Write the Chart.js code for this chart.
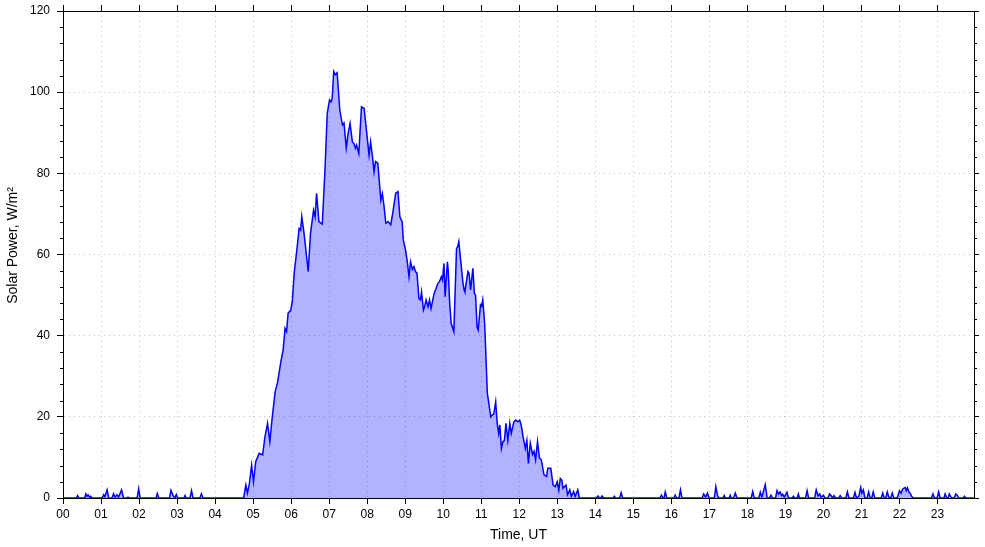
<!DOCTYPE html>
<html>
<head>
<meta charset="utf-8">
<title>Solar Power</title>
<script src="https://cdn.jsdelivr.net/npm/chart.js@4.4.1/dist/chart.umd.min.js"></script>
<style>
  html, body { margin: 0; padding: 0; background: #fff; }
  #wrap { width: 985px; height: 547px; }
</style>
</head>
<body>
<div id="wrap"><canvas id="solarChart"></canvas></div>
<script>
// time in hours UT, power in W/m2
const nightHours = [0, 0.35, 0.385, 0.42, 0.57, 0.6, 0.63, 0.66, 0.7, 0.73,
  0.76, 1.03, 1.07, 1.1, 1.16, 1.2, 1.29, 1.33, 1.37, 1.42,
  1.46, 1.54, 1.59, 1.69, 1.71, 1.73, 1.95, 1.99, 2.03, 2.45,
  2.48, 2.52, 2.8, 2.84, 2.9, 2.94, 2.98, 3.02, 3.18, 3.21,
  3.24, 3.34, 3.38, 3.42, 3.6, 3.64, 3.68, 4.72];
const nightPower = [0, 0, 0.6, 0, 0, 1, 0.4, 0.8, 0.2, 0.4,
  0, 0, 0.8, 0.3, 2, 0, 0, 1.1, 0.2, 0.8,
  0.2, 2, 0, 0, 0.2, 0, 0, 2.3, 0, 0,
  1.1, 0, 0, 1.9, 0.5, 0, 0.9, 0, 0, 0.6,
  0, 0, 1.8, 0, 0, 1, 0, 0];

const dayHours = [4.75, 4.81, 4.85, 4.9, 4.96, 5.01, 5.07, 5.16, 5.25, 5.31,
  5.38, 5.44, 5.5, 5.58, 5.64, 5.73, 5.79, 5.84, 5.88, 5.92,
  5.99, 6.03, 6.08, 6.15, 6.21, 6.25, 6.28, 6.34, 6.45, 6.51,
  6.59, 6.63, 6.67, 6.73, 6.82, 6.89, 6.95, 7.01, 7.05, 7.08,
  7.12, 7.16, 7.21, 7.28, 7.35, 7.39, 7.45, 7.5, 7.55, 7.61,
  7.65, 7.69, 7.72, 7.78, 7.85, 7.92, 7.97, 8.05, 8.09, 8.14,
  8.18, 8.22, 8.28, 8.36, 8.4, 8.44, 8.49, 8.55, 8.62, 8.68,
  8.75, 8.81, 8.86, 8.92, 8.95, 9.01, 9.05, 9.1, 9.14, 9.19,
  9.23, 9.27, 9.31, 9.36, 9.4, 9.43, 9.48, 9.51, 9.55, 9.6,
  9.64, 9.68, 9.76, 9.8, 9.86, 9.9, 9.95, 9.98, 10.02, 10.05,
  10.11, 10.13, 10.17, 10.21, 10.28, 10.35, 10.38, 10.41, 10.45, 10.52,
  10.55, 10.57, 10.65, 10.68, 10.72, 10.78, 10.82, 10.85, 10.89, 10.92,
  10.98, 11.01, 11.04, 11.09, 11.13, 11.16, 11.2, 11.25, 11.29, 11.33,
  11.38, 11.42, 11.46, 11.49, 11.53, 11.57, 11.61, 11.65, 11.7, 11.75,
  11.79, 11.86, 11.91, 11.96, 12.01, 12.05, 12.1, 12.16, 12.2, 12.24,
  12.29, 12.35, 12.39, 12.43, 12.48, 12.53, 12.58, 12.65, 12.72, 12.75,
  12.83, 12.89, 12.95, 13.0, 13.04, 13.08, 13.12, 13.15, 13.23, 13.27,
  13.33, 13.37, 13.43, 13.47, 13.54, 13.58, 14.03, 14.07, 14.11];
const dayPower = [0, 3.2, 1.2, 3.4, 8.1, 4, 9, 11, 10.6, 15,
  18.4, 13.9, 19.6, 26.2, 28.3, 33.6, 36.5, 41.8, 41, 45.5,
  46.3, 48.4, 55.4, 61.1, 66.4, 66, 69.3, 65.2, 55.8, 65.2,
  70.9, 69.3, 75.1, 68.1, 67.5, 80.8, 94.8, 98.1, 97.6, 98.4,
  105.1, 104.3, 104.8, 95.6, 91.9, 92.4, 86.2, 89.9, 92.3, 87.8,
  87.4, 86.2, 87, 84.9, 96.4, 96, 91.5, 84.5, 87.8, 84.1,
  80.4, 82.9, 82.5, 73.4, 75, 72.2, 67.7, 68.1, 67.3, 70.6,
  75.1, 75.5, 69.3, 68.1, 63.6, 61.1, 58.6, 54.5, 58.2, 56.3,
  57, 55.8, 55.4, 49.2, 48.8, 50.8, 46.3, 47.1, 48.8, 47.1,
  48.8, 46.7, 50.4, 51.3, 52.9, 53.3, 54.5, 53.7, 57.8, 49.6,
  58.2, 56.3, 48, 43, 41, 61.5, 61.9, 63.2, 59.4, 52.9,
  51.3, 50.8, 55.8, 55.4, 51.3, 56.6, 50.4, 50, 42.2, 41.4,
  47.6, 47.2, 48.8, 43, 33.2, 25.8, 23.3, 20, 20.5, 20.7,
  23.7, 18.4, 15.9, 18, 12.2, 13.9, 14.2, 18.4, 14.2, 18.4,
  15.9, 18.8, 19.2, 18.8, 19.2, 18, 15.1, 12.2, 14.2, 8.5,
  13.5, 10.7, 11.5, 9.4, 13.9, 9.9, 9.4, 5.7, 5.3, 7.3,
  7.3, 3.2, 2.8, 4, 1.9, 4.8, 4.4, 2.4, 3.2, 0.8,
  2, 0.4, 1.6, 0.4, 2, 0, 0, 0.5, 0];

const eveningHours = [14.14, 14.18, 14.22, 14.47, 14.5, 14.53, 14.64, 14.68, 14.72, 15.7,
  15.74, 15.78, 15.81, 15.84, 15.88, 16.06, 16.1, 16.14, 16.2, 16.24,
  16.28, 16.81, 16.85, 16.9, 16.95, 16.99, 17.13, 17.17, 17.22, 17.26,
  17.36, 17.39, 17.42, 17.52, 17.55, 17.58, 17.64, 17.68, 17.73, 18.1,
  18.14, 18.18, 18.3, 18.34, 18.38, 18.47, 18.52, 18.58, 18.62, 18.66,
  18.74, 18.78, 18.82, 18.86, 18.9, 18.93, 18.97, 19.04, 19.08, 19.18,
  19.21, 19.24, 19.31, 19.34, 19.37, 19.53, 19.57, 19.61, 19.77, 19.81,
  19.86, 19.9, 19.94, 20.0, 20.04, 20.12, 20.16, 20.21, 20.24, 20.28,
  20.32, 20.4, 20.44, 20.48, 20.59, 20.63, 20.67, 20.79, 20.83, 20.87,
  20.93, 20.98, 21.01, 21.05, 21.09, 21.15, 21.19, 21.23, 21.27, 21.31,
  21.35, 21.52, 21.56, 21.6, 21.64, 21.68, 21.72, 21.77, 21.81, 21.85,
  21.94, 22.0, 22.04, 22.09, 22.15, 22.18, 22.21, 22.25, 22.28, 22.32,
  22.36, 22.84, 22.88, 22.92, 22.99, 23.03, 23.07, 23.17, 23.2, 23.24,
  23.28, 23.31, 23.35, 23.39, 23.44, 23.48, 23.52, 23.56, 23.68, 23.71,
  23.74, 23.96];
const eveningPower = [0, 0.5, 0, 0, 0.4, 0, 0, 1.3, 0, 0,
  0.7, 0, 0, 1.5, 0, 0, 0.7, 0, 0, 2,
  0, 0, 1, 0.2, 1.2, 0, 0, 2.8, 0.4, 0,
  0, 0.6, 0, 0, 0.7, 0, 0, 1.2, 0, 0,
  1.6, 0, 0, 1.4, 0.2, 3.3, 0, 0, 0.7, 0,
  0, 1.8, 1, 1.5, 0.6, 0.9, 0.2, 1.4, 0, 0,
  0.4, 0, 0, 1, 0, 0, 1.8, 0, 0, 2,
  0.5, 1, 0.2, 0.7, 0, 0, 1, 0.5, 0, 0.6,
  0, 0, 0.6, 0, 0, 1.5, 0, 0, 1.4, 0,
  0.4, 2.6, 1.2, 2, 0, 0, 1.5, 0, 0, 1.5,
  0, 0, 1.2, 0, 0, 1.5, 0.2, 0, 1.2, 0,
  0, 1.8, 1.2, 2.3, 2.6, 1.8, 2.5, 1.5, 1.2, 0.4,
  0, 0, 1, 0, 0, 1.5, 0, 0, 1, 0,
  0, 1, 0.3, 0, 0, 1, 0.7, 0, 0, 0.4,
  0, 0];

const hourTicks = [0, 1, 2, 3, 4, 5, 6, 7, 8, 9, 10, 11, 12, 13, 14, 15, 16, 17, 18, 19, 20, 21, 22, 23];
const hourLabels = ['00', '01', '02', '03', '04', '05', '06', '07', '08', '09', '10', '11',
  '12', '13', '14', '15', '16', '17', '18', '19', '20', '21', '22', '23'];
const powerTicks = [0, 20, 40, 60, 80, 100, 120];
const powerMinorStep = 4;

function toPoints(hours, power) {
  return hours.map(function (h, i) { return {x: h, y: power[i]}; });
}
const points = toPoints(nightHours, nightPower)
  .concat(toPoints(dayHours, dayPower))
  .concat(toPoints(eveningHours, eveningPower));

const FONT = "'Liberation Sans', Arial, sans-serif";
const GRID = '#c4c4c4';

function setTicks(list) {
  return function (scale) {
    scale.ticks = list.map(function (v) { return {value: v}; });
  };
}
function insideGrid(lo, hi) {
  return function (ctx) {
    const v = ctx.tick ? ctx.tick.value : null;
    return (v !== null && v > lo && v < hi) ? GRID : 'rgba(0,0,0,0)';
  };
}
// fixed box sizes, no extra padding for overhanging labels
function fixBox(w, h) {
  return function (s) {
    if (w !== null) s.width = w;
    if (h !== null) s.height = h;
    s.paddingTop = 0; s.paddingBottom = 0;
    s.paddingLeft = 0; s.paddingRight = 0;
  };
}

// minor ticks on both y axes and the y title
const extras = {
  id: 'extras',
  afterDraw(chart) {
    const c = chart.ctx;
    const area = chart.chartArea;
    const y = chart.scales.y;
    c.save();
    c.strokeStyle = '#000';
    c.lineWidth = 1;
    c.beginPath();
    for (let v = 0; v <= 120; v += powerMinorStep) {
      if (powerTicks.indexOf(v) >= 0) continue;
      const py = Math.round(y.getPixelForValue(v)) + 0.5;
      c.moveTo(area.left - 3, py); c.lineTo(area.left, py);
      c.moveTo(area.right, py); c.lineTo(area.right + 3, py);
    }
    c.stroke();

    c.translate(13, (area.top + area.bottom) / 2 - 9);
    c.rotate(-Math.PI / 2);
    c.fillStyle = '#000';
    c.font = '14px ' + FONT;
    c.textAlign = 'center';
    c.textBaseline = 'middle';
    c.fillText('Solar Power, W/m\u00B2', 0, 0);
    c.restore();
  }
};

new Chart(document.getElementById('solarChart'), {
  type: 'line',
  data: {
    datasets: [{
      data: points,
      borderColor: '#0000ff',
      backgroundColor: 'rgba(0,0,255,0.3)',
      borderWidth: 1.5,
      fill: 'origin',
      tension: 0,
      pointRadius: 0,
      xAxisID: 'x',
      yAxisID: 'y'
    }]
  },
  options: {
    responsive: true,
    maintainAspectRatio: false,
    animation: false,
    events: [],
    layout: {padding: 0},
    plugins: {legend: {display: false}, tooltip: {enabled: false}},
    scales: {
      x: {
        type: 'linear', position: 'bottom', min: 0, max: 23.96,
        afterBuildTicks: setTicks(hourTicks),
        afterFit: fixBox(null, 49),
        grid: {color: insideGrid(0, 24), tickColor: '#000', tickLength: 6, lineWidth: 1},
        border: {color: '#000', width: 1, dash: [1, 4]},
        ticks: {
          color: '#000', padding: 3, maxRotation: 0, autoSkip: false,
          font: {family: FONT, size: 12},
          callback: function (v) { return hourLabels[hourTicks.indexOf(v)]; }
        },
        title: {display: true, text: 'Time, UT', color: '#000',
          font: {family: FONT, size: 14}, padding: {top: 0, bottom: 3}}
      },
      x2: {
        type: 'linear', axis: 'x', position: 'top', min: 0, max: 23.96,
        afterBuildTicks: setTicks(hourTicks),
        afterFit: fixBox(null, 11),
        grid: {drawOnChartArea: false, tickColor: '#000', tickLength: 6},
        border: {color: '#000', width: 1},
        ticks: {display: false}
      },
      y: {
        type: 'linear', position: 'left', min: 0, max: 120,
        afterBuildTicks: setTicks(powerTicks),
        afterFit: fixBox(63, null),
        grid: {color: insideGrid(0, 120), tickColor: '#000', tickLength: 6, lineWidth: 1},
        border: {color: '#000', width: 1, dash: [1, 4]},
        ticks: {color: '#000', padding: 7, font: {family: FONT, size: 12}}
      },
      y2: {
        type: 'linear', axis: 'y', position: 'right', min: 0, max: 120,
        afterBuildTicks: setTicks(powerTicks),
        afterFit: fixBox(11, null),
        grid: {drawOnChartArea: false, tickColor: '#000', tickLength: 5},
        border: {color: '#000', width: 1},
        ticks: {display: false}
      }
    }
  },
  plugins: [extras]
});
</script>
</body>
</html>
